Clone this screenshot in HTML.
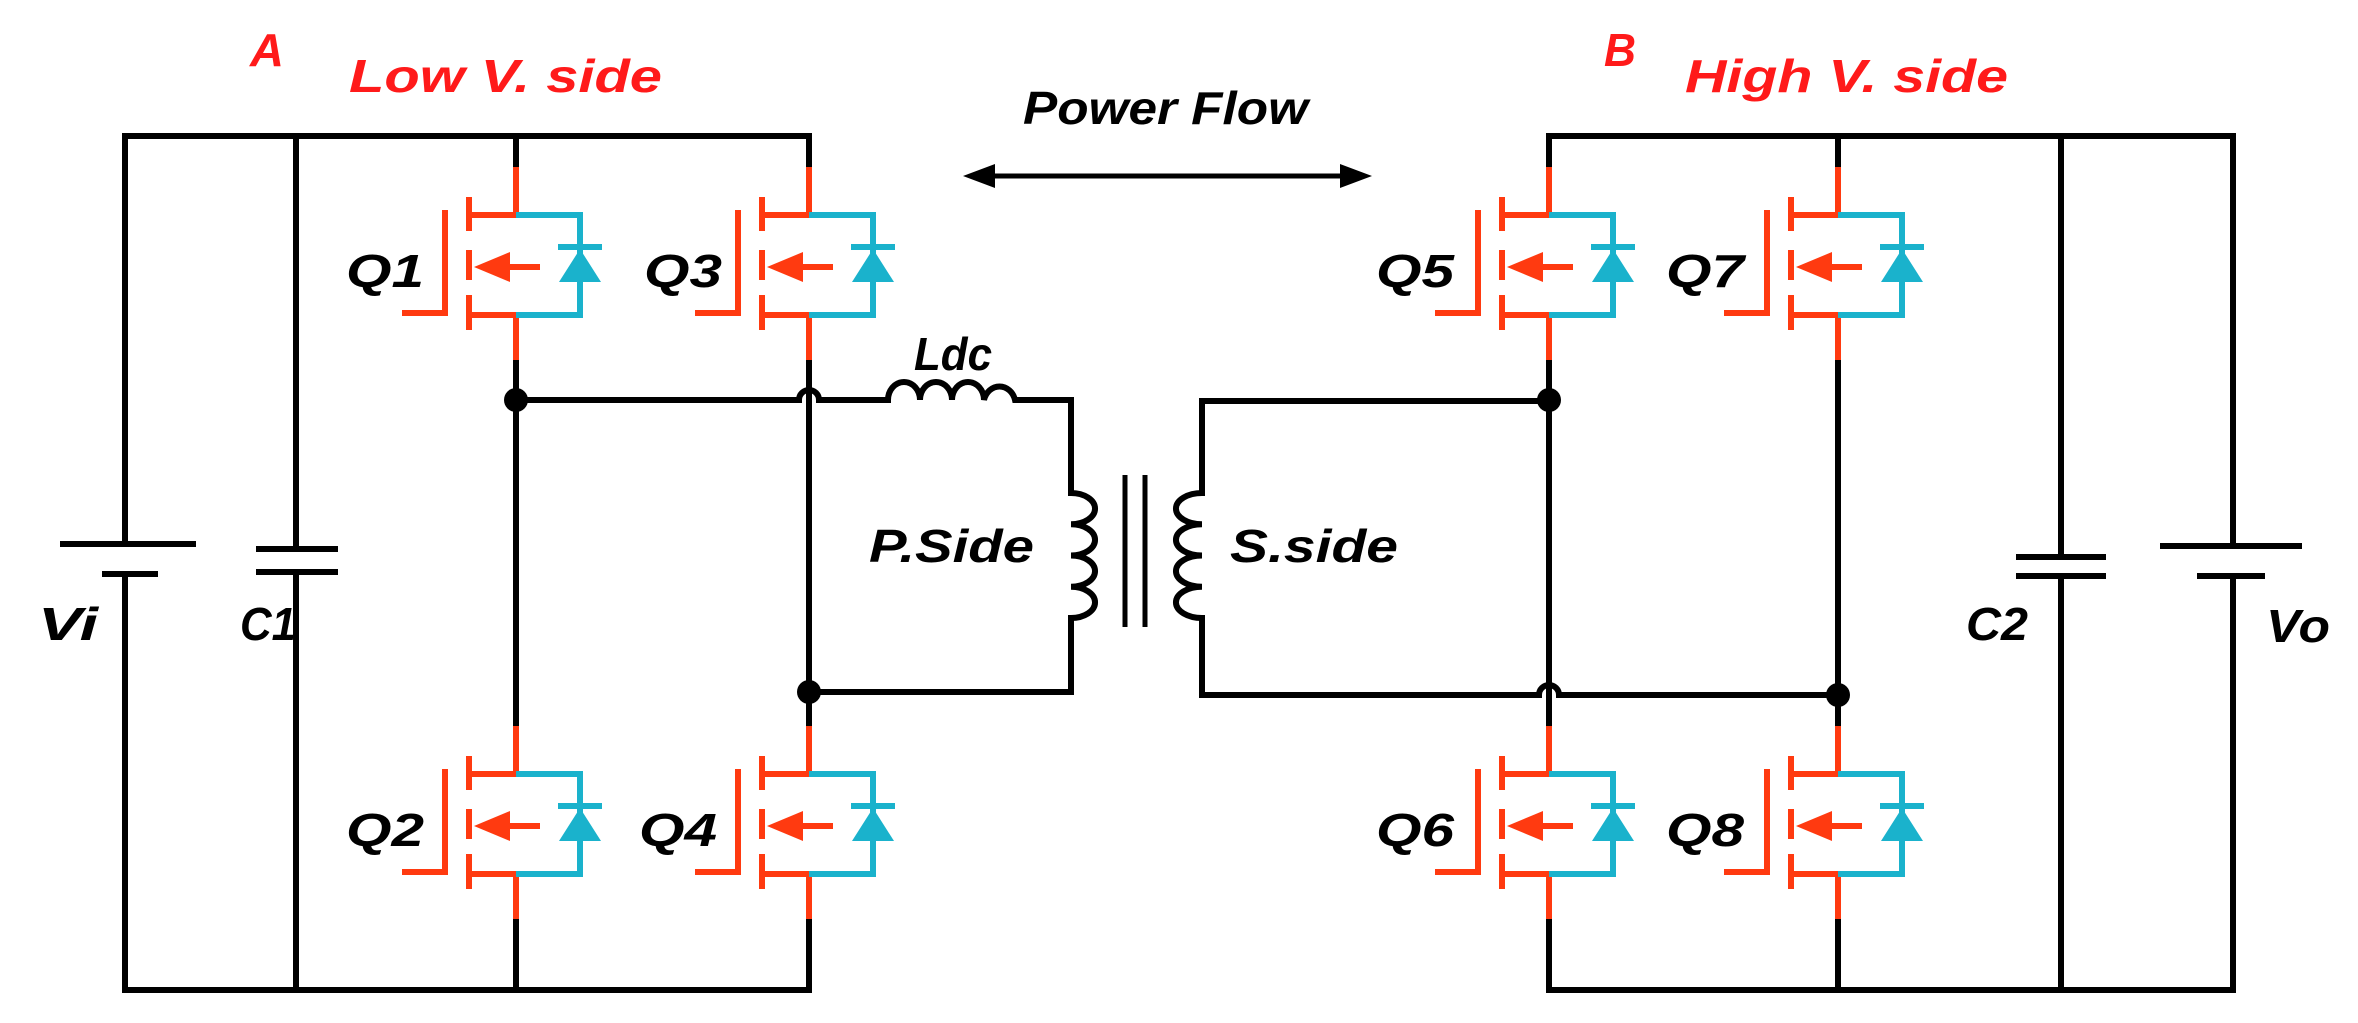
<!DOCTYPE html>
<html><head><meta charset="utf-8"><style>
html,body{margin:0;padding:0;background:#fff;}
svg{display:block;}
text{font-family:"Liberation Sans",sans-serif;font-weight:bold;font-style:italic;}
</style></head><body>
<svg width="2358" height="1023" viewBox="0 0 2358 1023" xmlns="http://www.w3.org/2000/svg">
<defs>
<g id="m">
  <g stroke="#ff3a10" stroke-width="6" fill="none" stroke-linecap="butt">
    <path d="M0,-100 V-52 H-47"/>
    <path d="M-47,48 H0 V93"/>
    <path d="M-47,-70 V-36 M-47,-17 V13 M-47,28 V63"/>
    <path d="M-71,-57 V46 H-114"/>
    <path d="M24,0 H-12"/>
  </g>
  <path d="M-42,0 L-6,-15 L-6,15 Z" fill="#ff3a10"/>
  <g stroke="#1ab2cc" stroke-width="6" fill="none">
    <path d="M0,-52 H64 V48 H0"/>
    <path d="M42,-20 H86"/>
  </g>
  <path d="M64,-18 L43,15 L85,15 Z" fill="#1ab2cc"/>
</g>
</defs>
<g stroke="#000" stroke-width="6" fill="none" stroke-linejoin="miter">
  <path d="M809,167 V136 H125 V544"/>
  <path d="M125,574 V990 H809 V919"/>
  <path d="M296,136 V549 M296,572 V990"/>
  <path d="M60,544 H196 M102,574 H158"/>
  <path d="M256,549 H338 M256,572 H338"/>
  <path d="M516,136 V167 M516,360 V726 M516,919 V990"/>
  <path d="M809,360 V726"/>
  <path d="M516,400 H799 A10,10 0 0 1 819,400 H888 a16,18 0 0 1 32,0 a16,18 0 0 1 32,0 a16,18 0 0 1 32,0 a16,18 0 0 1 31,0 H1071 V493 a24,15.6 0 0 1 0,31.25 a24,15.6 0 0 1 0,31.25 a24,15.6 0 0 1 0,31.25 a24,15.6 0 0 1 0,31.25 V692 H809"/>
  <path d="M1125,475 V627 M1145,475 V627" stroke-width="5"/>
  <path d="M1549,401 H1202 V493 a26,15.6 0 0 0 0,31.25 a26,15.6 0 0 0 0,31.25 a26,15.6 0 0 0 0,31.25 a26,15.6 0 0 0 0,31.25 V695 H1539 A10,10 0 0 1 1559,695 H1838"/>
  <path d="M1549,167 V136 H2233 V546"/>
  <path d="M2233,576 V990 H1549 V919"/>
  <path d="M2061,136 V557 M2061,576 V990"/>
  <path d="M2016,557 H2106 M2016,576 H2106"/>
  <path d="M2160,546 H2302 M2197,576 H2265"/>
  <path d="M1838,136 V167 M1838,360 V726 M1838,919 V990"/>
  <path d="M1549,360 V726"/>
  <path d="M990,176 H1345" stroke-width="5"/>
</g>
<path d="M963,176 L995,164 L995,188 Z M1372,176 L1340,164 L1340,188 Z" fill="#000"/>
<g fill="#000">
  <circle cx="516" cy="400" r="12"/>
  <circle cx="809" cy="692" r="12"/>
  <circle cx="1549" cy="400" r="12"/>
  <circle cx="1838" cy="695" r="12"/>
</g>
<use href="#m" transform="translate(516,267)"/>
<use href="#m" transform="translate(809,267)"/>
<use href="#m" transform="translate(516,826)"/>
<use href="#m" transform="translate(809,826)"/>
<use href="#m" transform="translate(1549,267)"/>
<use href="#m" transform="translate(1838,267)"/>
<use href="#m" transform="translate(1549,826)"/>
<use href="#m" transform="translate(1838,826)"/>
<g fill="#000" font-size="46">
  <text x="346" y="287" textLength="78" lengthAdjust="spacingAndGlyphs">Q1</text>
  <text x="644" y="287" textLength="78" lengthAdjust="spacingAndGlyphs">Q3</text>
  <text x="346" y="846" textLength="78" lengthAdjust="spacingAndGlyphs">Q2</text>
  <text x="639" y="846" textLength="78" lengthAdjust="spacingAndGlyphs">Q4</text>
  <text x="1376" y="287" textLength="78" lengthAdjust="spacingAndGlyphs">Q5</text>
  <text x="1666" y="287" textLength="78" lengthAdjust="spacingAndGlyphs">Q7</text>
  <text x="1376" y="846" textLength="78" lengthAdjust="spacingAndGlyphs">Q6</text>
  <text x="1666" y="846" textLength="78" lengthAdjust="spacingAndGlyphs">Q8</text>
  <text x="38" y="640" textLength="60" lengthAdjust="spacingAndGlyphs">Vi</text>
  <text x="240" y="640" textLength="56" lengthAdjust="spacingAndGlyphs">C1</text>
  <text x="1966" y="640" textLength="62" lengthAdjust="spacingAndGlyphs">C2</text>
  <text x="2266" y="642" textLength="64" lengthAdjust="spacingAndGlyphs">Vo</text>
  <text x="914" y="370" textLength="78" lengthAdjust="spacingAndGlyphs">Ldc</text>
  <text x="869" y="562" textLength="165" lengthAdjust="spacingAndGlyphs">P.Side</text>
  <text x="1230" y="562" textLength="168" lengthAdjust="spacingAndGlyphs">S.side</text>
  <text x="1023" y="124" textLength="285" lengthAdjust="spacingAndGlyphs">Power Flow</text>
</g>
<g fill="#ff1a1a" font-size="46">
  <text x="250" y="66" textLength="34" lengthAdjust="spacingAndGlyphs">A</text>
  <text x="349" y="92" textLength="313" lengthAdjust="spacingAndGlyphs">Low V. side</text>
  <text x="1604" y="66" textLength="32" lengthAdjust="spacingAndGlyphs">B</text>
  <text x="1685" y="92" textLength="323" lengthAdjust="spacingAndGlyphs">High V. side</text>
</g>
</svg>
</body></html>
